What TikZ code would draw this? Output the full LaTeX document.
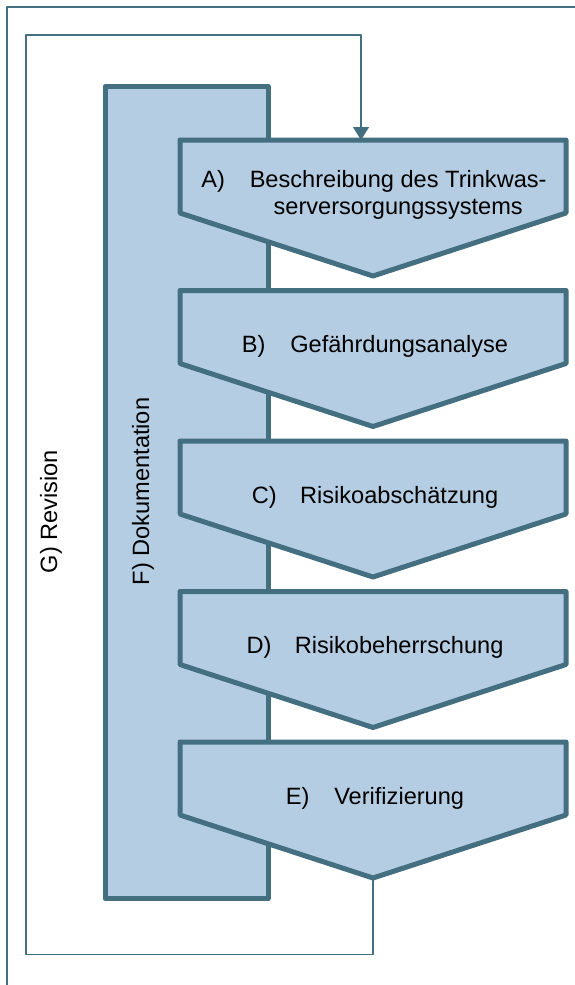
\documentclass[tikz,border=0pt]{standalone}
\usepackage{fontspec}
\setmainfont{Liberation Sans}
\usepackage{xcolor}
\usepackage{tikz}
\usetikzlibrary{arrows.meta,positioning}

\definecolor{rahmenblau}{RGB}{67,111,128}
\definecolor{hellblau}{RGB}{180,205,226}

\begin{document}
\begin{tikzpicture}[x=1pt, y=-1pt, line join=round, >={Triangle[length=13pt,width=16pt]}, inner sep=0pt, font=\fontsize{23.6}{27}\selectfont]

\tikzstyle{schritt}=[draw=rahmenblau, fill=hellblau, line width=5pt, outer sep=0pt]
\tikzstyle{marke}=[anchor=base]
\tikzstyle{revision}=[draw=rahmenblau, line width=1.3pt, ->]

\useasboundingbox (0,0) rectangle (575,985);

% aeusserer Rahmen
\draw[rahmenblau, line width=2pt] (575,6.7) -- (7,6.7) -- (7,985);

\node[schritt, anchor=north west, minimum width=163pt, minimum height=812pt] (doku) at (105,86.5) {};
\node[rotate=90] (dokutext) at (143,491.5) {F) Dokumentation};
\node[rotate=90] (revtext) at (51,511.5) {G) Revision};

\foreach \oben in {140,290.5,441,591.5,742}
  \draw[schritt] (180,\oben) -- (566,\oben) -- (566,\oben+73) -- (373,\oben+136) -- (180,\oben+73) -- cycle;

\node[marke] (a) at (374,187) {\makebox[2.05em][l]{A)}\begin{tabular}[t]{@{}c@{}}Beschreibung des Trinkwas-\\serversorgungssystems\end{tabular}};
\node[marke] (b) at (375,352.5) {\makebox[2.05em][l]{B)}Gefährdungsanalyse};
\node[marke] (c) at (375,503) {\makebox[2.05em][l]{C)}Risikoabschätzung};
\node[marke] (d) at (375,653.5) {\makebox[2.05em][l]{D)}Risikobeherrschung};
\node[marke] (e) at (375,804) {\makebox[2.05em][l]{E)}Verifizierung};

\coordinate (spitzeE) at (373,878);
\coordinate (eingangA) at (361,140);
\path[revision] (spitzeE) -- ++(0,76.5) -| (26,35) -| (eingangA);

\end{tikzpicture}
\end{document}
